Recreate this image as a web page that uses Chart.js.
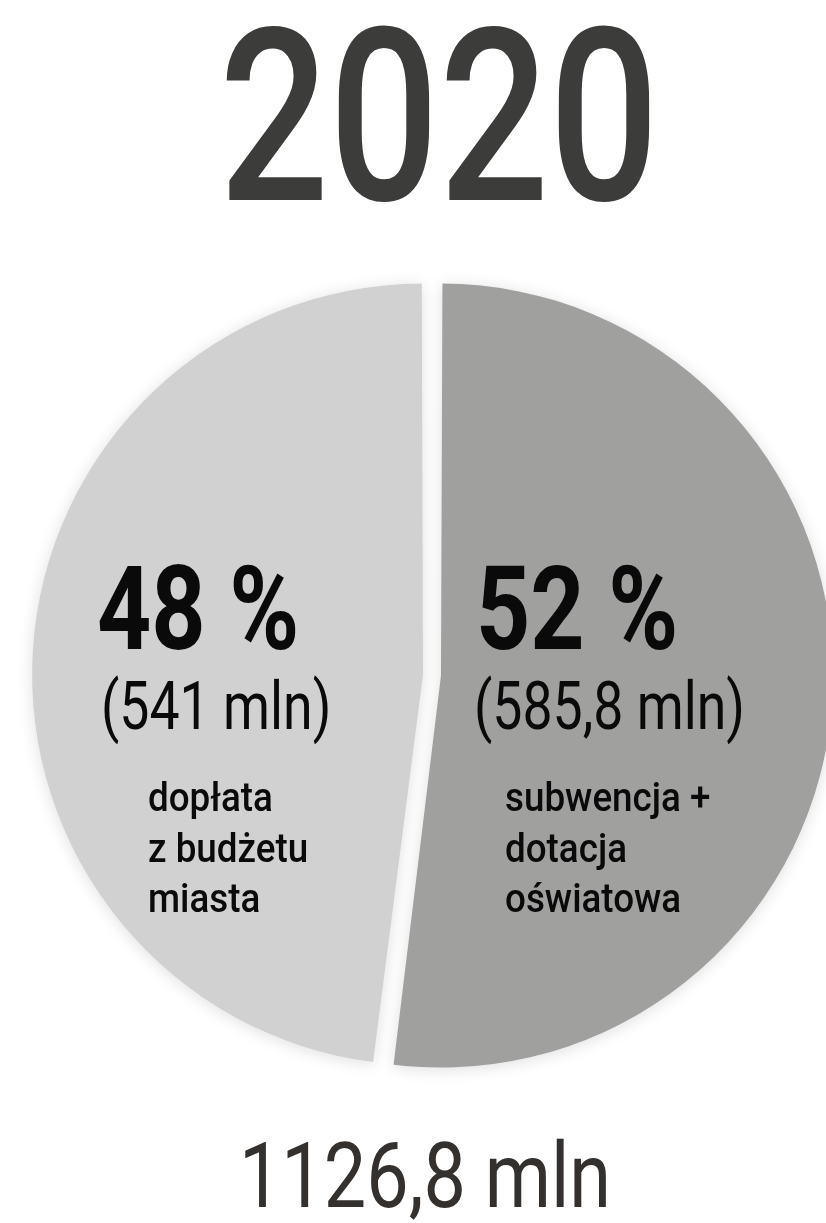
<!DOCTYPE html>
<html><head><meta charset="utf-8">
<script src="https://cdn.jsdelivr.net/npm/chart.js@4/dist/chart.umd.min.js"></script>
<style>
html,body{margin:0;padding:0;background:#fff;width:826px;height:1223px;overflow:hidden;}
#wrap{position:relative;width:826px;height:1223px;}
canvas{position:absolute;left:0;top:0;}
.t{position:absolute;white-space:nowrap;font-family:Roboto,"DejaVu Sans",sans-serif;line-height:1;}
</style></head><body>
<div id="wrap"><canvas id="c" width="826" height="1223"></canvas></div>
<script>
// ---- data ----
const year = '2020';
const categories = ['subwencja + dotacja oświatowa', 'dopłata z budżetu miasta'];
const categoryLines = [['subwencja +', 'dotacja', 'oświatowa'], ['dopłata', 'z budżetu', 'miasta']];
const values = [585.8, 541];          // mln
const percents = [52, 48];
const total = 1126.8;                 // mln
const unit = 'mln';

const fmt = v => String(v).replace('.', ',');

// ---- chart ----
const shadowPlugin = {
  id: 'shadow',
  beforeDatasetsDraw(chart) {
    const ctx = chart.ctx;
    ctx.save();
    ctx.shadowColor = 'rgba(0,0,0,0.13)';
    ctx.shadowBlur = 16;
    ctx.shadowOffsetX = 0;
    ctx.shadowOffsetY = 2;
  },
  afterDatasetsDraw(chart) { chart.ctx.restore(); }
};

new Chart(document.getElementById('c'), {
  type: 'pie',
  data: {
    labels: categories,
    datasets: [{
      data: values,
      backgroundColor: ['#a0a09f', '#d1d1d1'],
      borderWidth: 0,
      offset: 36,
      hoverOffset: 36,
      clip: false
    }]
  },
  options: {
    responsive: false,
    animation: false,
    events: [],
    radius: 383,
    layout: { padding: { left: 38, right: 0, top: 250, bottom: 123 } },
    plugins: { legend: { display: false }, tooltip: { enabled: false } }
  },
  plugins: [shadowPlugin]
});

// ---- text ----
const wrap = document.getElementById('wrap');
function put(text, x, top, size, weight, color, sx, align) {
  const d = document.createElement('div');
  d.className = 't';
  d.textContent = text;
  d.style.left = x + 'px';
  d.style.top = top + 'px';
  d.style.fontSize = size + 'px';
  d.style.fontWeight = weight;
  d.style.color = color;
  if (align === 'center') {
    d.style.transformOrigin = '50% 0';
    d.style.transform = 'translateX(-50%) scaleX(' + sx + ')';
  } else {
    d.style.transformOrigin = '0 0';
    d.style.transform = 'scaleX(' + sx + ')';
  }
  wrap.appendChild(d);
}

put(year, 438.5, -4, 242, 500, '#3c3c3a', 0.80, 'center');

const labelX = [476, 97];
const valueX = [474, 101];
const lineX = [505, 148];
for (let i = 0; i < values.length; i++) {
  put(percents[i] + ' %', labelX[i], 551, 117, 700, '#0a0a0a', 0.81);
  put('(' + fmt(values[i]) + ' ' + unit + ')', valueX[i], 673, 67, 400, '#0a0a0a', 0.8);
  categoryLines[i].forEach((ln, k) => {
    put(ln, lineX[i], 778 + k * 50.5, 40, 500, '#0a0a0a', 0.92);
  });
}

put(fmt(total) + ' ' + unit, 424.5, 1131, 91, 400, '#33302d', 0.83, 'center');
</script>
</body></html>
